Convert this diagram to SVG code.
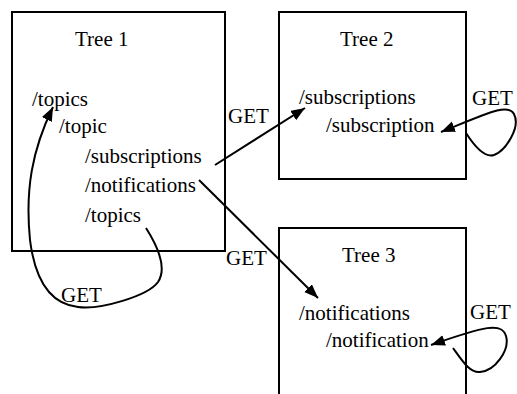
<svg xmlns="http://www.w3.org/2000/svg" width="517" height="394" viewBox="0 0 517 394" font-family="'Liberation Serif', 'Times New Roman', 'DejaVu Serif', serif" font-size="21">
<style>
text{font-family:'Liberation Serif','Times New Roman','DejaVu Serif',serif;font-size:21px;fill:#000}
.box{fill:none;stroke:#000;stroke-width:2}
.c{fill:none;stroke:#000;stroke-width:2}
</style>
<defs>
<marker id="ah" markerUnits="userSpaceOnUse" markerWidth="15" markerHeight="12" refX="14" refY="5.5" orient="auto">
<path d="M0,0 L14,5.5 L0,11 z" fill="#000"/>
</marker>
</defs>
<rect width="517" height="394" fill="#fff"/>
<g id="tree1">
<rect class="box" x="12" y="12" width="213" height="239"/>
<text x="75" y="46">Tree 1</text>
<text x="32" y="106">/topics</text>
<text x="59" y="133">/topic</text>
<text x="85" y="163">/subscriptions</text>
<text x="85" y="192">/notifications</text>
<text x="85" y="222">/topics</text>
</g>
<g id="tree2">
<rect class="box" x="279" y="12" width="187" height="167"/>
<text x="340" y="46">Tree 2</text>
<text x="299" y="104">/subscriptions</text>
<text x="326" y="132">/subscription</text>
</g>
<g id="tree3">
<rect class="box" x="279" y="228" width="187" height="180"/>
<text x="342" y="262">Tree 3</text>
<text x="299" y="320">/notifications</text>
<text x="326" y="347">/notification</text>
</g>
<g id="connectors">
<path class="c" d="M215,165 L305,108" marker-end="url(#ah)"/>
<text x="228" y="123">GET</text>
<path class="c" d="M199,180 L318,298" marker-end="url(#ah)"/>
<text x="226" y="265">GET</text>
<path class="c" d="M146,228 C160,250 166,270 158,282 C148,296 100,310 78,307 C50,304 35,280 30,240 C25,190 32,150 53,107" marker-end="url(#ah)"/>
<text x="61" y="302">GET</text>
<path class="c" d="M466,133 C475,147 485,158 494,155 C505,151 521,128 514,114 C508,103 490,112 441,132" marker-end="url(#ah)"/>
<text x="472" y="105">GET</text>
<path class="c" d="M453,348 C463,362 470,373 480,372 C495,371 510,350 506,336 C502,322 485,326 431,345" marker-end="url(#ah)"/>
<text x="470" y="319">GET</text>
</g>
</svg>
